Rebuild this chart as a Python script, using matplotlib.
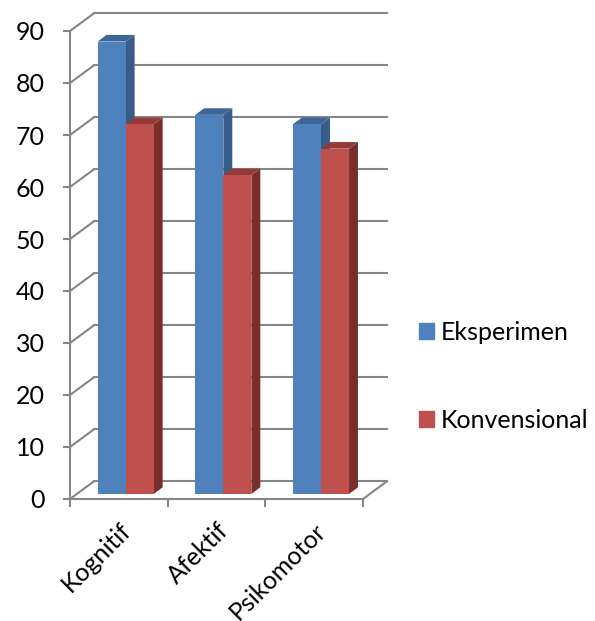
import matplotlib
matplotlib.use('Agg')
from matplotlib import pyplot as plt
from matplotlib.patches import Patch
import numpy as np

plt.rcParams['font.family'] = ['Lato', 'DejaVu Sans']

categories = ['Kognitif', 'Afektif', 'Psikomotor']
series_names = ['Eksperimen', 'Konvensional']
eksperimen = [87.0, 72.9, 71.1]
konvensional = [71.1, 61.3, 66.4]
yticks = [0, 10, 20, 30, 40, 50, 60, 70, 80, 90]

# fake 3d: depth offset of the whole box, in data units
DX = 0.245
DY = 3.4
# bars sit between these fractions of the depth
F0 = 0.286
F1 = 0.66
BAR_W = 0.287

GRID = '#868686'
FS = 18
front_col = ['#4F81BD', '#C0504D']
top_col = ['#3D6596', '#963A37']
side_col = ['#385D8A', '#7A2E2C']


def drawBar(ax, x, h, k):
	x0 = x + F0 * DX
	y0 = F0 * DY
	ddx = (F1 - F0) * DX
	ddy = (F1 - F0) * DY
	# side
	ax.fill([x0 + BAR_W, x0 + BAR_W + ddx, x0 + BAR_W + ddx, x0 + BAR_W],
			[y0, y0 + ddy, y0 + h + ddy, y0 + h],
			color=side_col[k], lw=0, clip_on=False, zorder=3)
	# top
	ax.fill([x0, x0 + BAR_W, x0 + BAR_W + ddx, x0 + ddx],
			[y0 + h, y0 + h, y0 + h + ddy, y0 + h + ddy],
			color=top_col[k], lw=0, clip_on=False, zorder=3)
	# front
	ax.bar(x0, h, BAR_W, bottom=y0, align='edge', color=front_col[k],
		   lw=0, clip_on=False, zorder=3)


fig = plt.figure(figsize=(5.95, 6.21), dpi=100)
ax = fig.add_axes([70 / 595., 122 / 621., 317.4 / 595., 488.8 / 621.])
ax.set_xlim(-0.5, 2.75)
ax.set_ylim(0, 94)
ax.patch.set_visible(False)

# back wall grid + diagonals
for v in yticks:
	ax.plot([-0.5 + DX, 2.5 + DX], [v + DY, v + DY], color=GRID, lw=1.5,
			clip_on=False, zorder=1)
	ax.plot([-0.5, -0.5 + DX], [v, v + DY], color=GRID, lw=1.5,
			clip_on=False, zorder=1)
# floor right edge
ax.plot([2.5, 2.5 + DX], [0, DY], color=GRID, lw=1.5, clip_on=False, zorder=1)

idx = np.arange(len(categories))
for i in idx:
	drawBar(ax, i - BAR_W, eksperimen[i], 0)
	drawBar(ax, i, konvensional[i], 1)

for s in ['top', 'right']:
	ax.spines[s].set_visible(False)
ax.spines['left'].set_bounds(0, 90)
ax.spines['bottom'].set_bounds(-0.5, 2.5)
for s in ['left', 'bottom']:
	ax.spines[s].set_color(GRID)
	ax.spines[s].set_linewidth(1.5)
	ax.spines[s].set_zorder(2)

ax.set_yticks(yticks)
ax.tick_params(axis='y', length=5, width=1.5, color=GRID, pad=13,
			   labelsize=FS)
ax.set_xticks([-0.5, 0.5, 1.5, 2.5])
ax.set_xticklabels([])
ax.set_xticks(idx, minor=True)
ax.set_xticklabels(categories, minor=True, rotation=45, ha='right',
				   rotation_mode='anchor', fontsize=FS)
ax.tick_params(axis='x', which='major', length=5.5, width=1.5, color=GRID)
ax.tick_params(axis='x', which='minor', length=0, pad=14)

handles = [Patch(color=front_col[0]), Patch(color=front_col[1])]
fig.legend(handles, series_names, loc='center left',
		   bbox_to_anchor=(419 / 595., 1 - 376 / 621.), frameon=False,
		   fontsize=FS, handlelength=0.6, handleheight=0.6,
		   handletextpad=0.25, labelspacing=2.6, borderpad=0, borderaxespad=0)

plt.savefig('out.png', dpi=100)
